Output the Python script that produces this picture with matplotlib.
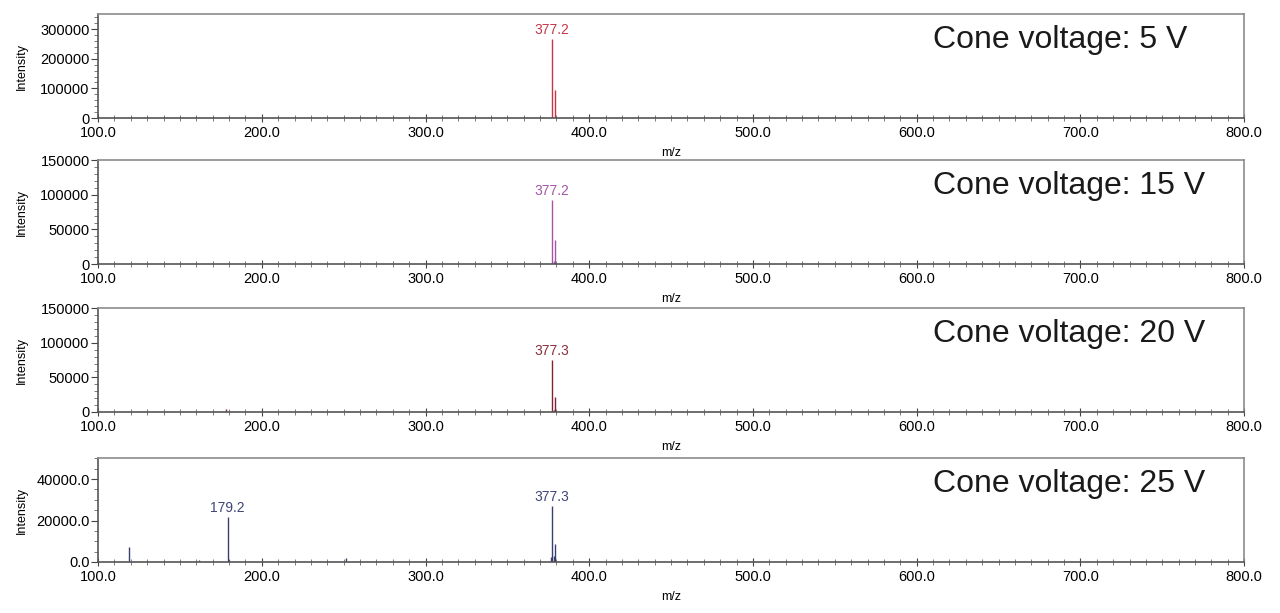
import matplotlib
matplotlib.use("Agg")
import matplotlib.pyplot as plt
from matplotlib.ticker import MultipleLocator, FormatStrFormatter

plt.rcParams['font.family'] = ['Liberation Sans', 'DejaVu Sans']

# spectra (m/z, intensity)
titles = ["Cone voltage: 5 V", "Cone voltage: 15 V", "Cone voltage: 20 V", "Cone voltage: 25 V"]

mz_5v = [377.2, 379.2]
int_5v = [266000, 94000]

mz_15v = [377.2, 378.2, 379.2, 405.0]
int_15v = [92300, 5000, 34600, 1200]

mz_20v = [178.0, 252.0, 377.3, 378.3, 379.3]
int_20v = [5000, 1500, 75000, 3000, 21600]

mz_25v = [119.0, 161.6, 179.2, 180.2, 251.5, 362.0, 376.6, 377.3, 378.3, 379.3]
int_25v = [7000, 1000, 21500, 1000, 2000, 600, 2500, 26800, 3000, 8800]

peak_labels = [[("377.2", 377.2, 266000)],
               [("377.2", 377.2, 92300)],
               [("377.3", 377.3, 75000)],
               [("179.2", 179.2, 21500), ("377.3", 377.3, 26800)]]

ymax = [350000, 150000, 150000, 50000]
ystep = [100000, 50000, 50000, 20000]
yminor = [20000, 10000, 10000, 5000]
yfmt = ["%d", "%d", "%d", "%.1f"]

line_colors = ["#c8364a", "#a455a8", "#7e2434", "#383f70"]
label_colors = ["#c8364a", "#a455a8", "#8a2f3c", "#3f4575"]

spectra = [(mz_5v, int_5v), (mz_15v, int_15v), (mz_20v, int_20v), (mz_25v, int_25v)]

fig = plt.figure(figsize=(12.8, 6.13), dpi=100)

bottoms = [0.8075, 0.5693, 0.3279, 0.0832]
for i in range(4):
    ax = fig.add_axes([0.0766, bottoms[i], 0.8954, 0.169])
    mz, inten = spectra[i]
    ax.vlines(mz, 0, inten, colors=line_colors[i], linewidth=1.0)
    for txt, x, y in peak_labels[i]:
        ax.text(x, y + ymax[i] * 0.02, txt, color=label_colors[i], fontsize=10,
                ha='center', va='bottom')

    ax.set_xlim(100, 800)
    ax.set_ylim(0, ymax[i])
    ax.xaxis.set_major_locator(MultipleLocator(100))
    ax.xaxis.set_minor_locator(MultipleLocator(10))
    ax.xaxis.set_major_formatter(FormatStrFormatter("%.1f"))
    ax.yaxis.set_major_locator(MultipleLocator(ystep[i]))
    ax.yaxis.set_minor_locator(MultipleLocator(yminor[i]))
    ax.yaxis.set_major_formatter(FormatStrFormatter(yfmt[i]))

    ax.tick_params(axis='x', which='major', direction='inout', length=6,
                   labelsize=10.5, pad=3, color='#444')
    ax.tick_params(axis='x', which='minor', direction='inout', length=4, color='#666')
    ax.tick_params(axis='y', which='major', direction='out', length=5,
                   labelsize=10.5, pad=1, color='#444')
    ax.tick_params(axis='y', which='minor', direction='out', length=3, color='#666')
    # lift the "0" label a touch so it clears the x label below it
    ax.get_yticklabels()[0].set_va('bottom')

    for side in ['top', 'right']:
        ax.spines[side].set_color('#8c8c8c')
        ax.spines[side].set_linewidth(1.2)
    for side in ['left', 'bottom']:
        ax.spines[side].set_color('#555555')
        ax.spines[side].set_linewidth(1.2)

    ax.set_ylabel("Intensity", fontsize=9)
    ax.set_xlabel("m/z", fontsize=9)
    ax.xaxis.set_label_coords(0.5, -0.28)
    ax.yaxis.set_label_coords(-0.061, 0.5)

    ax.text(0.7286, 0.757, titles[i], transform=ax.transAxes, fontsize=23,
            ha='left', va='center', color='#1a1a1a')

fig.savefig("out.png", dpi=100)
